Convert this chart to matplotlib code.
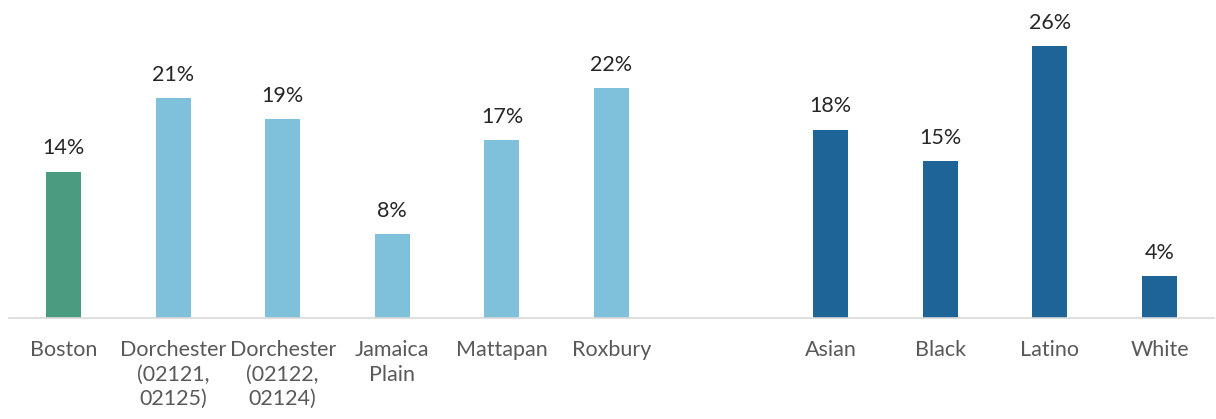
import matplotlib.pyplot as plt
import numpy as np

plt.rcParams['font.family'] = ['Lato', 'DejaVu Sans']

# Neighborhood values (percent)
city = ["Boston"]
city_vals = [14]
hoods = ["Dorchester\n(02121,\n02125)", "Dorchester\n(02122,\n02124)",
         "Jamaica\nPlain", "Mattapan", "Roxbury"]
hood_vals = [21, 19, 8, 17, 22]
races = ["Asian", "Black", "Latino", "White"]
race_vals = [18, 15, 26, 4]

c_city = "#4A9B80"
c_hood = "#7FC1DB"
c_race = "#1F6496"

fig = plt.figure(figsize=(12.16, 4.19), dpi=100)
ax = fig.add_axes([0.0072, 0.241, 0.9914, 0.699])

labels = city + hoods + [""] + races
vals = city_vals + hood_vals + [None] + race_vals
colors = [c_city] * len(city) + [c_hood] * len(hoods) + [None] + [c_race] * len(races)

x = np.arange(len(labels))
for xi, v, c in zip(x, vals, colors):
    if v is None:
        continue
    ax.bar(xi, v, width=0.32, color=c, zorder=2)
    ax.annotate(f"{v}%", (xi, v), xytext=(0, 12.5), textcoords="offset points",
                ha="center", va="baseline", fontsize=15.5, color="#262626")

ax.set_xlim(-0.5, len(labels) - 0.5)
ax.set_ylim(0, 28)
ax.set_xticks(x)
ax.set_xticklabels(labels, fontsize=15.5, color="#595959", linespacing=1.27)
ax.tick_params(axis="x", length=0, pad=16)
ax.set_yticks([])
for s in ["top", "right", "left"]:
    ax.spines[s].set_visible(False)
ax.spines["bottom"].set_color("#D9D9D9")
ax.spines["bottom"].set_linewidth(1.2)

fig.savefig("out.png", dpi=100)
